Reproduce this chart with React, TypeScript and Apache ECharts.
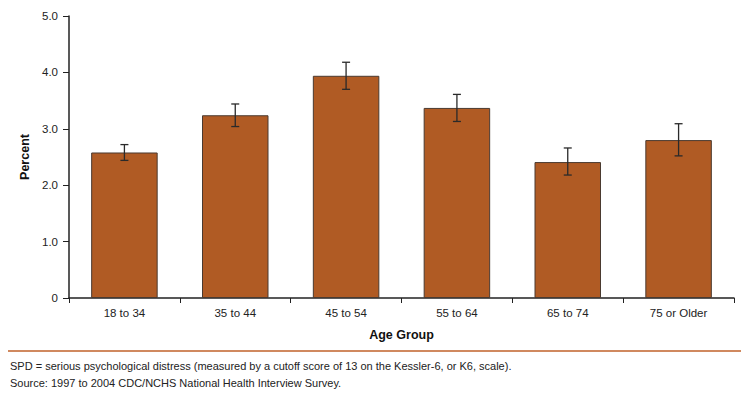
import React, { useEffect, useRef } from "react";
import * as echarts from "echarts";

const categories = ["18 to 34", "35 to 44", "45 to 54", "55 to 64", "65 to 74", "75 or Older"];
const percentValues = [2.58, 3.24, 3.94, 3.37, 2.41, 2.80];
const errorLow = [2.44, 3.04, 3.70, 3.13, 2.18, 2.52];
const errorHigh = [2.72, 3.44, 4.18, 3.61, 2.66, 3.09];
const yTickLabels: Record<string, string> = { "0": "0", "1": "1.0", "2": "2.0", "3": "3.0", "4": "4.0", "5": "5.0" };
const footnote = "SPD = serious psychological distress (measured by a cutoff score of 13 on the Kessler-6, or K6, scale).";
const source = "Source: 1997 to 2004 CDC/NCHS National Health Interview Survey.";

const FONT = "'Liberation Sans Narrow', 'Arial Narrow', 'Liberation Sans', sans-serif";

export default function App() {
  const ref = useRef<HTMLDivElement>(null);
  useEffect(() => {
    if (!ref.current) return;
    const chart = echarts.init(ref.current, null, { renderer: "svg" });
    const errData = categories.map((_, i) => [i, errorLow[i], errorHigh[i]]);
    chart.setOption({
      animation: false,
      textStyle: { fontFamily: FONT },
      grid: { left: 69, top: 16, right: 16, bottom: 98 },
      xAxis: {
        type: "category",
        data: categories,
        name: "Age Group",
        nameLocation: "middle",
        nameGap: 30,
        nameTextStyle: { fontFamily: FONT, fontWeight: "bold", fontSize: 12.5, color: "#111" },
        axisLine: { lineStyle: { color: "#222", width: 1.5 } },
        axisTick: { show: true, length: 5, alignWithLabel: false, lineStyle: { color: "#222" } },
        axisLabel: { fontFamily: FONT, fontSize: 11.5, color: "#222", margin: 9 },
      },
      yAxis: {
        type: "value",
        min: 0,
        max: 5,
        interval: 1,
        name: "Percent",
        nameLocation: "middle",
        nameGap: 37,
        nameTextStyle: { fontFamily: FONT, fontWeight: "bold", fontSize: 12.5, color: "#111" },
        axisLine: { show: true, lineStyle: { color: "#222", width: 1.5 } },
        axisTick: { show: true, length: 6, lineStyle: { color: "#222" } },
        axisLabel: {
          fontFamily: FONT,
          fontSize: 11.5,
          color: "#222",
          margin: 11,
          formatter: (v: number) => yTickLabels[String(v)] ?? String(v),
        },
        splitLine: { show: false },
      },
      series: [
        {
          type: "bar",
          data: percentValues,
          barWidth: "60%",
          itemStyle: { color: "#b05b24", borderColor: "#4a3a30", borderWidth: 1 },
        },
        {
          type: "custom",
          data: errData,
          z: 10,
          renderItem: (params: any, api: any) => {
            const x = api.value(0);
            const lo = api.coord([x, api.value(1)]);
            const hi = api.coord([x, api.value(2)]);
            const cap = 4;
            const style = { stroke: "#2a2a2a", lineWidth: 1.3 };
            return {
              type: "group",
              children: [
                { type: "line", shape: { x1: lo[0], y1: lo[1], x2: hi[0], y2: hi[1] }, style },
                { type: "line", shape: { x1: hi[0] - cap, y1: hi[1], x2: hi[0] + cap, y2: hi[1] }, style },
                { type: "line", shape: { x1: lo[0] - cap, y1: lo[1], x2: lo[0] + cap, y2: lo[1] }, style },
              ],
            };
          },
        },
      ],
      graphic: [
        { type: "line", shape: { x1: 8, y1: 351, x2: 741, y2: 351 }, style: { stroke: "#c0622a", lineWidth: 1.5 } },
        { type: "text", x: 10, y: 360, style: { text: footnote, fontFamily: FONT, fontSize: 11, fill: "#222" } },
        { type: "text", x: 10, y: 377, style: { text: source, fontFamily: FONT, fontSize: 11, fill: "#222" } },
      ],
    });
    return () => chart.dispose();
  }, []);
  return <div ref={ref} style={{ position: "fixed", left: 0, top: 0, width: 750, height: 396, background: "#fff" }} />;
}
